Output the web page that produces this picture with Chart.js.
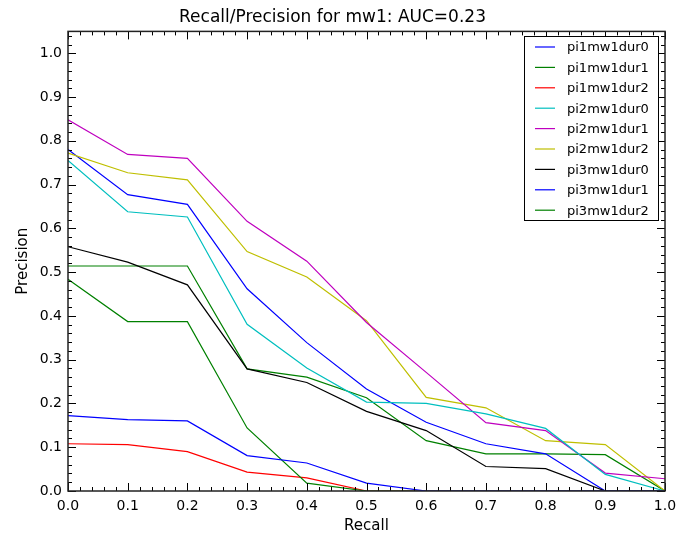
<!DOCTYPE html>
<html>
<head>
<meta charset="utf-8">
<script src="https://cdn.jsdelivr.net/npm/chart.js@4/dist/chart.umd.min.js"></script>
<style>
  html, body { margin: 0; padding: 0; background: #fff; }
  #wrap { width: 697px; height: 539px; }
</style>
</head>
<body>
<div id="wrap"><canvas id="pr_chart" width="697" height="539"></canvas></div>
<script>
// recall points on the x axis
const recall = [0.0, 0.1, 0.2, 0.3, 0.4, 0.5, 0.6, 0.7, 0.8, 0.9, 1.0];
const tickLabels = ['0.0', '0.1', '0.2', '0.3', '0.4', '0.5', '0.6', '0.7', '0.8', '0.9', '1.0'];

// precision for each run
const pi1mw1dur0 = [0.172, 0.163, 0.160, 0.081, 0.064, 0.018, 0.0, 0.0, 0.0, 0.0, 0.0];
const pi1mw1dur1 = [0.484, 0.387, 0.387, 0.144, 0.018, 0.0, 0.0, 0.0, 0.0, 0.0, 0.0];
const pi1mw1dur2 = [0.108, 0.106, 0.090, 0.043, 0.030, 0.0, 0.0, 0.0, 0.0, 0.0, 0.0];
const pi2mw1dur0 = [0.755, 0.638, 0.626, 0.381, 0.281, 0.203, 0.200, 0.176, 0.143, 0.038, 0.0];
const pi2mw1dur1 = [0.848, 0.769, 0.760, 0.616, 0.525, 0.385, 0.271, 0.156, 0.138, 0.041, 0.028];
const pi2mw1dur2 = [0.772, 0.727, 0.711, 0.547, 0.489, 0.389, 0.214, 0.190, 0.115, 0.106, 0.0];
const pi3mw1dur0 = [0.558, 0.523, 0.471, 0.279, 0.248, 0.182, 0.138, 0.056, 0.051, 0.0, 0.0];
const pi3mw1dur1 = [0.780, 0.677, 0.655, 0.462, 0.339, 0.233, 0.157, 0.108, 0.085, 0.0, 0.0];
const pi3mw1dur2 = [0.514, 0.514, 0.514, 0.279, 0.260, 0.213, 0.115, 0.085, 0.085, 0.083, 0.0];

const seriesNames = ['pi1mw1dur0', 'pi1mw1dur1', 'pi1mw1dur2', 'pi2mw1dur0', 'pi2mw1dur1',
                     'pi2mw1dur2', 'pi3mw1dur0', 'pi3mw1dur1', 'pi3mw1dur2'];
const seriesValues = [pi1mw1dur0, pi1mw1dur1, pi1mw1dur2, pi2mw1dur0, pi2mw1dur1,
                      pi2mw1dur2, pi3mw1dur0, pi3mw1dur1, pi3mw1dur2];
const seriesColors = ['#0000ff', '#008000', '#ff0000', '#00bfbf', '#bf00bf',
                      '#bfbf00', '#000000', '#0000ff', '#008000'];

const FONT = "'DejaVu Sans', sans-serif";

const datasets = seriesNames.map((name, i) => ({
    label: name,
    data: recall.map((r, j) => ({x: r, y: seriesValues[i][j]})),
    borderColor: seriesColors[i],
    backgroundColor: seriesColors[i],
    borderWidth: 1.2,
    pointRadius: 0,
    fill: false,
    tension: 0
}));

// matplotlib style frame, inward ticks and legend box
const framePlugin = {
    id: 'frame',
    afterDatasetsDraw(chart) {
        const ctx = chart.ctx;
        const a = chart.chartArea;
        const xs = chart.scales.x, ys = chart.scales.y;
        ctx.save();
        ctx.strokeStyle = '#000';
        ctx.lineWidth = 1;
        // minor and major ticks
        for (let k = 0; k <= 50; k++) {
            const v = k / 50;
            const len = (k % 5 === 0) ? 8 : 4;
            const px = Math.round(xs.getPixelForValue(v)) + 0.5;
            ctx.beginPath();
            ctx.moveTo(px, a.bottom); ctx.lineTo(px, a.bottom - len);
            ctx.moveTo(px, a.top); ctx.lineTo(px, a.top + len);
            ctx.stroke();
        }
        for (let k = 0; k <= 52; k++) {
            const v = k / 50;
            const len = (k % 5 === 0) ? 8 : 4;
            const py = Math.round(ys.getPixelForValue(v)) + 0.5;
            ctx.beginPath();
            ctx.moveTo(a.left, py); ctx.lineTo(a.left + len, py);
            ctx.moveTo(a.right, py); ctx.lineTo(a.right - len, py);
            ctx.stroke();
        }
        ctx.lineWidth = 1.5;
        ctx.strokeStyle = '#222';
        ctx.strokeRect(a.left, a.top, a.right - a.left, a.bottom - a.top);

        // legend
        const lx = 524.5, ly = 36.5, lw = 134, lh = 184;
        ctx.fillStyle = '#fff';
        ctx.fillRect(lx, ly, lw, lh);
        ctx.lineWidth = 1;
        ctx.strokeStyle = '#000';
        ctx.strokeRect(lx, ly, lw, lh);
        ctx.font = '13px ' + FONT;
        ctx.textBaseline = 'middle';
        chart.data.datasets.forEach((ds, i) => {
            const y = 47 + i * 20.4;
            ctx.strokeStyle = ds.borderColor;
            ctx.lineWidth = 1.2;
            ctx.beginPath();
            ctx.moveTo(535, y); ctx.lineTo(555, y);
            ctx.stroke();
            ctx.fillStyle = '#000';
            ctx.fillText(ds.label, 567, y + 1);
        });
        ctx.restore();
    }
};

const PRConfig = {
    type: 'line',
    data: { datasets: datasets },
    options: {
        responsive: false,
        animation: false,
        layout: { padding: { top: 0, right: 32, left: 0, bottom: 0 } },
        plugins: {
            legend: { display: false },
            tooltip: { enabled: false },
            title: {
                display: true,
                text: 'Recall/Precision for mw1: AUC=0.23',
                color: '#000',
                font: { family: FONT, size: 17, weight: 'normal' },
                padding: { top: 7, bottom: 4 }
            }
        },
        scales: {
            x: {
                type: 'linear',
                min: 0, max: 1,
                grid: { display: false, drawTicks: false },
                border: { display: false },
                ticks: {
                    stepSize: 0.1,
                    padding: 7,
                    color: '#000',
                    font: { family: FONT, size: 14 },
                    maxRotation: 0,
                    callback: (v) => tickLabels[Math.round(v * 10)]
                },
                title: {
                    display: true, text: 'Recall', color: '#000',
                    font: { family: FONT, size: 15 }, padding: { top: 3 }
                },
                afterFit: (s) => { s.height = 48; }
            },
            y: {
                type: 'linear',
                min: 0, max: 1.05,
                grid: { display: false, drawTicks: false },
                border: { display: false },
                ticks: {
                    stepSize: 0.1,
                    includeBounds: false,
                    padding: 6,
                    color: '#000',
                    font: { family: FONT, size: 14 },
                    callback: (v) => v.toFixed(1)
                },
                title: {
                    display: true, text: 'Precision', color: '#000',
                    font: { family: FONT, size: 15 }, padding: { top: 14, bottom: 0 }
                },
                afterFit: (s) => { s.width = 68; }
            }
        }
    },
    plugins: [framePlugin]
};

// === display chart ===
var prChart = new Chart(document.getElementById('pr_chart'), PRConfig);
</script>
</body>
</html>
